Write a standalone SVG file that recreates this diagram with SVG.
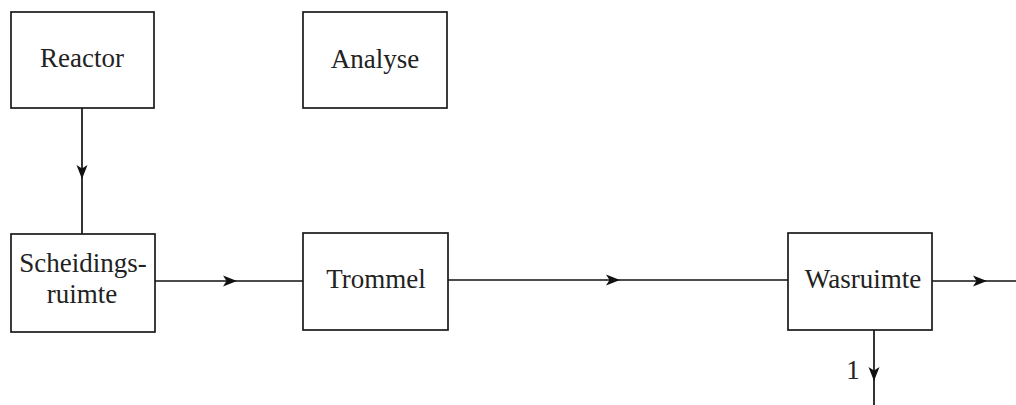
<svg xmlns="http://www.w3.org/2000/svg" width="1016" height="405" viewBox="0 0 1016 405">
<style>
.box{fill:#fff;stroke:#1a1a1a;stroke-width:1.7}
.lbl{font-family:"Liberation Serif","Times New Roman",serif;font-size:27px;fill:#222;text-anchor:middle}
.ln{fill:none;stroke:#111;stroke-width:1.7;marker-mid:url(#ah)}
</style>
<defs>
<marker id="ah" markerUnits="userSpaceOnUse" markerWidth="18" markerHeight="14" viewBox="-16 -7 18 14" refX="0" refY="0" orient="auto">
<path d="M0 0 L-14 -5.5 L-10.5 0 L-14 5.5 Z" fill="#111"/>
</marker>
</defs>
<g id="connectors">
<path class="ln" d="M82 108 L82 179 L82 234"/>
<path class="ln" d="M155 281 L237 281 L303 281"/>
<path class="ln" d="M448 280 L620 280 L788 280"/>
<path class="ln" d="M932 281 L987 281 L1016 281"/>
<path class="ln" d="M874 330 L874 381 L874 405"/>
<text class="lbl" x="853" y="379">1</text>
</g>
<g id="reactor"><rect class="box" x="11" y="12" width="143" height="96"/><text class="lbl" x="82" y="67">Reactor</text></g>
<g id="analyse"><rect class="box" x="303" y="12" width="144" height="96"/><text class="lbl" x="375" y="68">Analyse</text></g>
<g id="scheidingsruimte"><rect class="box" x="11" y="234" width="144" height="98"/><text class="lbl" x="83" y="272">Scheidings-</text><text class="lbl" x="82" y="303">ruimte</text></g>
<g id="trommel"><rect class="box" x="303" y="233" width="145" height="97"/><text class="lbl" x="376" y="288">Trommel</text></g>
<g id="wasruimte"><rect class="box" x="788" y="233" width="144" height="97"/><text class="lbl" x="863" y="288">Wasruimte</text></g>
</svg>
